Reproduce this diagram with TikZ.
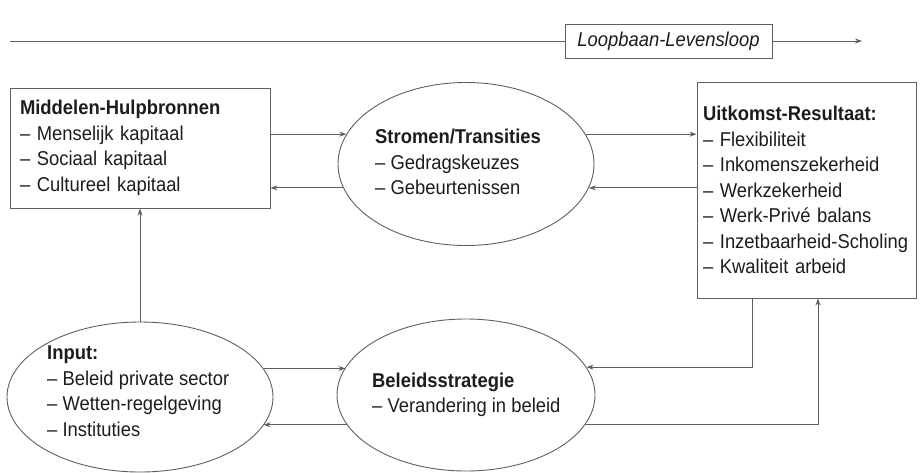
\documentclass[tikz,border=0pt]{standalone}
\usepackage{fontspec}
\setmainfont{Liberation Sans}[FakeStretch=0.92]
\usetikzlibrary{arrows.meta, shapes.geometric}
\definecolor{linegray}{RGB}{95,95,95}
\definecolor{textdark}{RGB}{28,28,28}

\begin{document}
\begin{tikzpicture}[
  x=1pt, y=1pt,
  font=\fontsize{20}{25.5}\selectfont, text=textdark,
  >={Stealth[length=7pt,width=5pt]},
  box/.style={rectangle, draw=linegray, line width=0.9pt, align=left},
  blob/.style={ellipse, draw=linegray, line width=0.9pt, inner sep=0pt},
  txt/.style={align=left, inner sep=0pt, anchor=west},
  link/.style={->, draw=linegray, line width=0.85pt},
]
\useasboundingbox (0,0) rectangle (920,-472);

% levensloop
\coordinate (tstart) at (10,-41);
\coordinate (tend)   at (862,-41);
\node[box, minimum width=207pt, minimum height=34pt] (loop) at (668.5,-41) {\itshape Loopbaan-Levensloop};
\draw[draw=linegray, line width=0.85pt] (tstart) -- (loop.west);
\draw[link] (loop.east) -- (tend);

% bovenste rij
\node[box, minimum width=260pt, minimum height=120pt, inner xsep=10pt, text width=240pt] (middelen) at (140,-148)
  {\textbf{Middelen-Hulpbronnen}\\– Menselijk kapitaal\\– Sociaal kapitaal\\– Cultureel kapitaal};
\node[blob, minimum width=256pt, minimum height=163pt] (stromen) at (466,-164) {};
\node[txt] (stromen-txt) at (375,-162)
  {\textbf{Stromen/Transities}\\– Gedragskeuzes\\– Gebeurtenissen};
\node[box, minimum width=219pt, minimum height=216pt, inner xsep=6pt, text width=207pt] (uitkomst) at (806.5,-190)
  {\textbf{Uitkomst-Resultaat:}\\– Flexibiliteit\\– Inkomenszekerheid\\– Werkzekerheid\\– Werk-Privé balans\\– Inzetbaarheid-Scholing\\– Kwaliteit arbeid};

% onderste rij
\node[blob, minimum width=266pt, minimum height=150pt] (input) at (140,-397) {};
\node[txt] (input-txt) at (47,-391)
  {\textbf{Input:}\\– Beleid private sector\\– Wetten-regelgeving\\– Instituties};
\node[blob, minimum width=258pt, minimum height=152pt] (beleid) at (466,-395) {};
\node[txt] (beleid-txt) at (372,-395)
  {\textbf{Beleidsstrategie}\\– Verandering in beleid};

% verbindingen
\draw[link] (middelen.east |- stromen.166) -- (stromen.166);
\draw[link] (stromen.191) -- (middelen.east |- stromen.191);
\draw[link] (stromen.14) -- (uitkomst.west |- stromen.14);
\draw[link] (uitkomst.west |- stromen.-11) -- (stromen.-11);
\draw[link] (input.north) -- (middelen.south);
\draw[link] (input.13) -- (beleid.167 |- input.13);
\draw[link] (beleid.194) -- (input.-13 |- beleid.194);
\draw[link] ([xshift=-54.5pt]uitkomst.south) |- (beleid.13);
\draw[link] (beleid.-14) -| ([xshift=11.5pt]uitkomst.south);
\end{tikzpicture}
\end{document}
